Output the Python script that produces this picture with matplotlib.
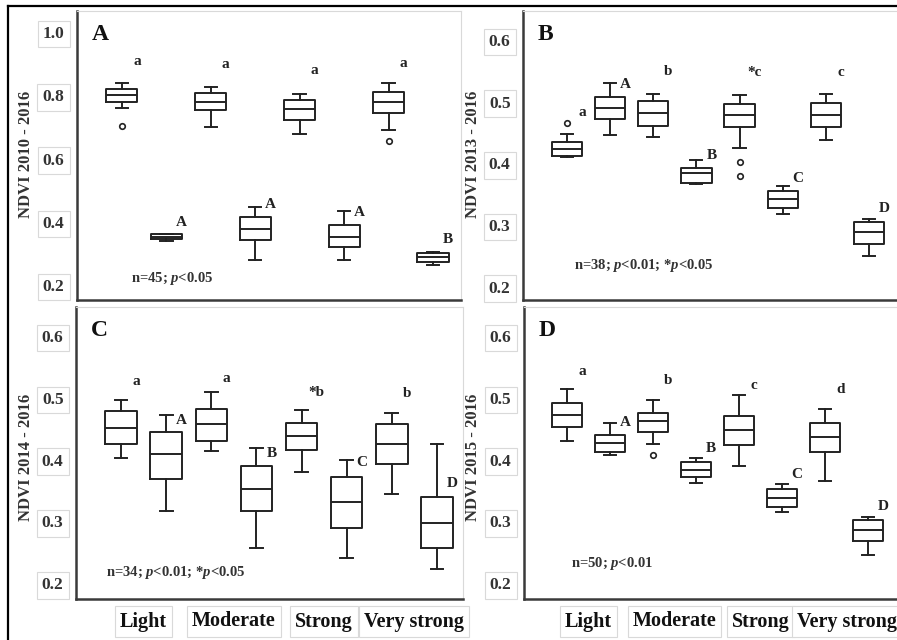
import matplotlib.pyplot as plt
from matplotlib.lines import Line2D

plt.rcParams.update({
    "font.family": "Liberation Serif",
    "font.weight": "bold",
    "axes.labelweight": "bold",
    "mathtext.fontset": "custom",
    "mathtext.rm": "Liberation Serif:bold",
    "mathtext.it": "Liberation Serif:italic:bold",
    "text.color": "#222222",
})

INK = "#222222"
SPINE = "#3a3a3a"
FAINT = "#d9d9d9"

GROUPS = ["Light", "Moderate", "Strong", "Very strong"]

# boxes in drawing order: Light (lower-case group), Light (upper-case group), Moderate ...
# each row: whisker low, Q1, median, Q3, whisker high
A_STATS = [
    [0.761, 0.778, 0.801, 0.819, 0.838],
    [0.338, 0.345, 0.352, 0.360, 0.362],
    [0.700, 0.753, 0.780, 0.809, 0.826],
    [0.279, 0.342, 0.378, 0.416, 0.446],
    [0.677, 0.722, 0.757, 0.786, 0.804],
    [0.279, 0.319, 0.353, 0.390, 0.435],
    [0.690, 0.744, 0.779, 0.812, 0.838],
    [0.264, 0.274, 0.288, 0.302, 0.305],
]
A_FLIERS = [[0.703], [], [], [], [], [], [0.656], []]
A_LETTERS = ["a", "A", "a", "A", "a", "A", "a", "B"]

B_STATS = [
    [0.411, 0.412, 0.424, 0.435, 0.447],
    [0.446, 0.472, 0.490, 0.508, 0.531],
    [0.443, 0.461, 0.481, 0.501, 0.513],
    [0.366, 0.368, 0.384, 0.392, 0.405],
    [0.425, 0.459, 0.478, 0.497, 0.510],
    [0.318, 0.327, 0.342, 0.355, 0.364],
    [0.438, 0.459, 0.478, 0.498, 0.513],
    [0.249, 0.269, 0.288, 0.305, 0.310],
]
B_FLIERS = [[0.466], [], [], [], [0.402, 0.379], [], [], []]
B_LETTERS = ["a", "A", "b", "B", "*c", "C", "c", "D"]

C_STATS = [
    [0.403, 0.425, 0.452, 0.478, 0.497],
    [0.317, 0.369, 0.409, 0.445, 0.472],
    [0.414, 0.431, 0.457, 0.482, 0.510],
    [0.257, 0.317, 0.352, 0.389, 0.419],
    [0.380, 0.416, 0.438, 0.459, 0.480],
    [0.241, 0.289, 0.332, 0.372, 0.400],
    [0.344, 0.393, 0.425, 0.458, 0.476],
    [0.223, 0.257, 0.297, 0.340, 0.425],
]
C_FLIERS = [[], [], [], [], [], [], [], []]
C_LETTERS = ["a", "A", "a", "B", "*b", "C", "b", "D"]

D_STATS = [
    [0.431, 0.453, 0.472, 0.492, 0.514],
    [0.407, 0.413, 0.427, 0.440, 0.460],
    [0.425, 0.445, 0.462, 0.475, 0.497],
    [0.363, 0.372, 0.384, 0.396, 0.403],
    [0.389, 0.423, 0.448, 0.470, 0.505],
    [0.315, 0.323, 0.338, 0.353, 0.361],
    [0.366, 0.412, 0.437, 0.460, 0.482],
    [0.245, 0.268, 0.286, 0.302, 0.307],
]
D_FLIERS = [[], [], [0.408], [], [], [], [], []]
D_LETTERS = ["a", "A", "b", "B", "c", "C", "d", "D"]

A_YTICKS = [0.2, 0.4, 0.6, 0.8, 1.0]
BCD_YTICKS = [0.2, 0.3, 0.4, 0.5, 0.6]

PANELS = [
    dict(name="A", stats=A_STATS, fliers=A_FLIERS, letters=A_LETTERS,
         ylabel="NDVI 2010 - 2016", note="n=45; $p$<0.05", yticks=A_YTICKS,
         rect=(77, 11, 461, 300), xlim=(-0.01, 8.63), ylim=(0.1525, 1.067),
         lab_dy=[22, 11, 23, 3, 24, -2, 20, 12], note_xy=(0.141, 0.076),
         ylab_xy=(-0.112, 0.505), xlabels=False),
    dict(name="B", stats=B_STATS, fliers=B_FLIERS, letters=B_LETTERS,
         ylabel="NDVI 2013 - 2016", note="n=38; $p$<0.01; *$p$<0.05", yticks=BCD_YTICKS,
         rect=(523, 11, 900, 300), xlim=(-0.02, 8.72), ylim=(0.1784, 0.647),
         lab_dy=[22, -2, 22, 5, 23, 7, 21, 10], note_xy=(0.135, 0.121),
         ylab_xy=(-0.111, 0.505), xlabels=False),
    dict(name="C", stats=C_STATS, fliers=C_FLIERS, letters=C_LETTERS,
         ylabel="NDVI 2014 - 2016", note="n=34; $p$<0.01; *$p$<0.05", yticks=BCD_YTICKS,
         rect=(76, 307, 463, 599), xlim=(0.0, 8.58), ylim=(0.1746, 0.647),
         lab_dy=[18, -5, 13, -6, 18, -3, 19, -39], note_xy=(0.078, 0.092),
         ylab_xy=(-0.109, 0.486), xlabels=True),
    dict(name="D", stats=D_STATS, fliers=D_FLIERS, letters=D_LETTERS,
         ylabel="NDVI 2015 - 2016", note="n=50; $p$<0.01", yticks=BCD_YTICKS,
         rect=(524, 307, 900, 599), xlim=(0.0, 8.74), ylim=(0.1746, 0.647),
         lab_dy=[18, 0, 19, 9, 9, 9, 19, 11], note_xy=(0.125, 0.123),
         ylab_xy=(-0.114, 0.486), xlabels=True),
]

W, H = 897, 640
fig = plt.figure(figsize=(W / 100, H / 100), dpi=100)

positions = list(range(1, 9))
tick_box = dict(boxstyle="square,pad=0.3", fc="white", ec=FAINT, lw=0.8)

for p in PANELS:
    x0, y0, x1, y1 = p["rect"]
    ax = fig.add_axes([x0 / W, 1 - y1 / H, (x1 - x0) / W, (y1 - y0) / H])

    bstats = [dict(whislo=s[0], q1=s[1], med=s[2], q3=s[3], whishi=s[4], fliers=f)
              for s, f in zip(p["stats"], p["fliers"])]
    line = dict(color=INK, lw=1.4)
    ax.bxp(bstats, positions=positions, widths=0.7, capwidths=0.28,
           boxprops=line, whiskerprops=line, capprops=line, medianprops=line,
           flierprops=dict(marker="o", mfc="none", mec=INK, ms=4, mew=1.2))

    for pos, s, lab, dy in zip(positions, p["stats"], p["letters"], p["lab_dy"]):
        ax.annotate(lab, xy=(pos, s[4]), xytext=(15, dy), textcoords="offset pixels",
                    ha="center", va="center", fontsize=11, color=INK)

    ax.set_xlim(*p["xlim"])
    ax.set_ylim(*p["ylim"])
    ax.set_yticks(p["yticks"], [f"{v:.1f}" for v in p["yticks"]])
    ax.tick_params(axis="y", length=0, pad=9, labelsize=12.5, labelcolor="#333333")
    for t in ax.get_yticklabels():
        t.set_bbox(tick_box)
    if p["xlabels"]:
        ax.set_xticks([1.5, 3.5, 5.5, 7.5], GROUPS)
        ax.tick_params(axis="x", length=0, pad=9, labelsize=14.5, labelcolor="#111111")
        for t in ax.get_xticklabels():
            t.set_bbox(dict(boxstyle="square,pad=0.25", fc="white", ec=FAINT, lw=0.8))
    else:
        ax.set_xticks([])

    ax.set_ylabel(p["ylabel"], fontsize=12, color="#333333", fontweight="bold")
    ax.yaxis.set_label_coords(*p["ylab_xy"])

    ax.annotate(p["name"], xy=(0, 1), xycoords="axes fraction", xytext=(15, -23),
                textcoords="offset pixels", ha="left", va="center", fontsize=17,
                color="#111111")
    ax.text(*p["note_xy"], p["note"], transform=ax.transAxes, fontsize=10.5,
            ha="left", va="center", color="#333333")

    for side in ("left", "bottom"):
        ax.spines[side].set_color(SPINE)
        ax.spines[side].set_linewidth(1.8)
    for side in ("top", "right"):
        ax.spines[side].set_color(FAINT)
        ax.spines[side].set_linewidth(0.8)

# outer frame of the composite (left and top edges only)
fig.add_artist(Line2D([7.5 / W, 7.5 / W], [0, 1 - 6 / H], color="black", lw=1.6))
fig.add_artist(Line2D([7.5 / W, 1], [1 - 6 / H, 1 - 6 / H], color="black", lw=1.6))

fig.savefig("out.png", dpi=100)
